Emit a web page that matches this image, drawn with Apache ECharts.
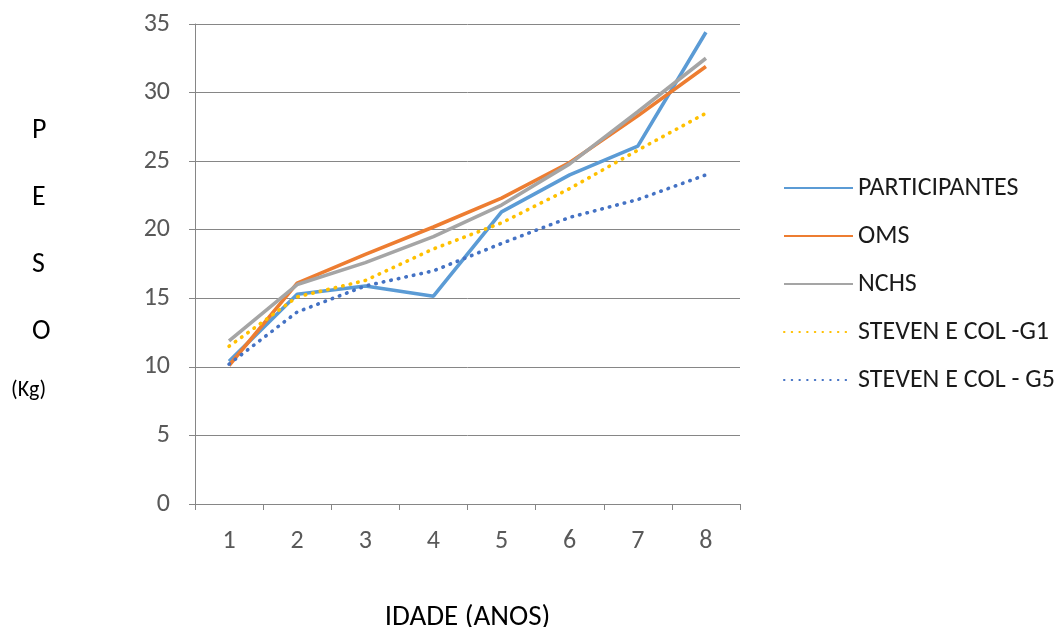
<!DOCTYPE html>
<html>
<head>
<meta charset="utf-8">
<script src="https://cdn.jsdelivr.net/npm/echarts@6/dist/echarts.min.js"></script>
<style>
  html, body { margin: 0; padding: 0; background: #ffffff; }
  #chart { width: 1062px; height: 627px; }
</style>
</head>
<body>
<div id="chart"></div>
<script>
// Idade em anos (eixo X)
const idades = ['1', '2', '3', '4', '5', '6', '7', '8'];

// Peso médio (kg) por idade
const participantes = [10.4, 15.3, 15.9, 15.15, 21.3, 24.0, 26.1, 34.4];
const oms = [10.1, 16.1, 18.2, 20.2, 22.3, 24.9, 28.3, 31.9];
const nchs = [11.9, 16.0, 17.6, 19.5, 21.8, 24.8, 28.6, 32.5];
const stevenG1 = [11.5, 15.1, 16.3, 18.6, 20.5, 23.0, 25.8, 28.5];
const stevenG5 = [10.2, 14.0, 15.9, 17.0, 19.0, 20.9, 22.2, 24.0];

// Letras do título vertical do eixo Y
const tituloY = ['P', 'E', 'S', 'O'];

const fonte = 'Carlito, Calibri, "Open Sans", "Noto Sans", sans-serif';
const cinza = '#868686';

function serie(nome, dados, cor, pontilhada) {
  return {
    name: nome,
    type: 'line',
    data: dados,
    symbol: 'none',
    smooth: false,
    lineStyle: {
      color: cor,
      width: pontilhada ? 3.6 : 3.6,
      type: pontilhada ? [0.5, 7.2] : 'solid',
      cap: pontilhada ? 'round' : 'butt'
    },
    itemStyle: { color: cor }
  };
}

const chart = echarts.init(document.getElementById('chart'), null, { renderer: 'canvas' });

chart.setOption({
  animation: false,
  backgroundColor: '#ffffff',
  textStyle: { fontFamily: fonte },
  grid: {
    left: 195, right: 322, top: 24, bottom: 123,
    containLabel: false,
    outerBoundsMode: 'none'
  },
  xAxis: {
    type: 'category',
    data: idades,
    boundaryGap: true,
    name: 'IDADE (ANOS)',
    nameLocation: 'middle',
    nameGap: 99,
    nameTextStyle: { fontSize: 29, color: '#000000', fontFamily: fonte },
    axisLine: { lineStyle: { color: cinza, width: 1 } },
    axisTick: { show: true, length: 6, alignWithLabel: false, lineStyle: { color: cinza } },
    axisLabel: { fontSize: 26, color: '#595959', margin: 24, fontFamily: fonte },
    splitLine: { show: false }
  },
  yAxis: {
    type: 'value',
    min: 0,
    max: 35,
    interval: 5,
    axisLine: { show: true, lineStyle: { color: cinza, width: 1 } },
    axisTick: { show: true, length: 6, lineStyle: { color: cinza } },
    axisLabel: { fontSize: 26, color: '#595959', margin: 25, fontFamily: fonte },
    splitLine: { show: true, lineStyle: { color: cinza, width: 1 } }
  },
  legend: {
    orient: 'vertical',
    left: 783,
    top: 175,
    padding: 0,
    itemWidth: 69,
    itemHeight: 14,
    itemGap: 22,
    itemStyle: { opacity: 0 },
    textStyle: { fontSize: 26, color: '#1a1a1a', fontFamily: fonte },
    data: ['PARTICIPANTES', 'OMS', 'NCHS', 'STEVEN E COL -G1', 'STEVEN E COL - G5']
  },
  graphic: tituloY.map((letra, i) => ({
    type: 'text',
    left: 32,
    top: 117 + i * 67,
    style: { text: letra, fill: '#000000', font: '28px ' + fonte }
  })).concat([{
    type: 'text',
    left: 11,
    top: 379,
    style: { text: '(Kg)', fill: '#000000', font: '22px ' + fonte }
  }]),
  series: [
    serie('PARTICIPANTES', participantes, '#5B9BD5', false),
    serie('OMS', oms, '#ED7D31', false),
    serie('NCHS', nchs, '#A5A5A5', false),
    serie('STEVEN E COL -G1', stevenG1, '#FFC000', true),
    serie('STEVEN E COL - G5', stevenG5, '#4472C4', true)
  ]
});
</script>
</body>
</html>
